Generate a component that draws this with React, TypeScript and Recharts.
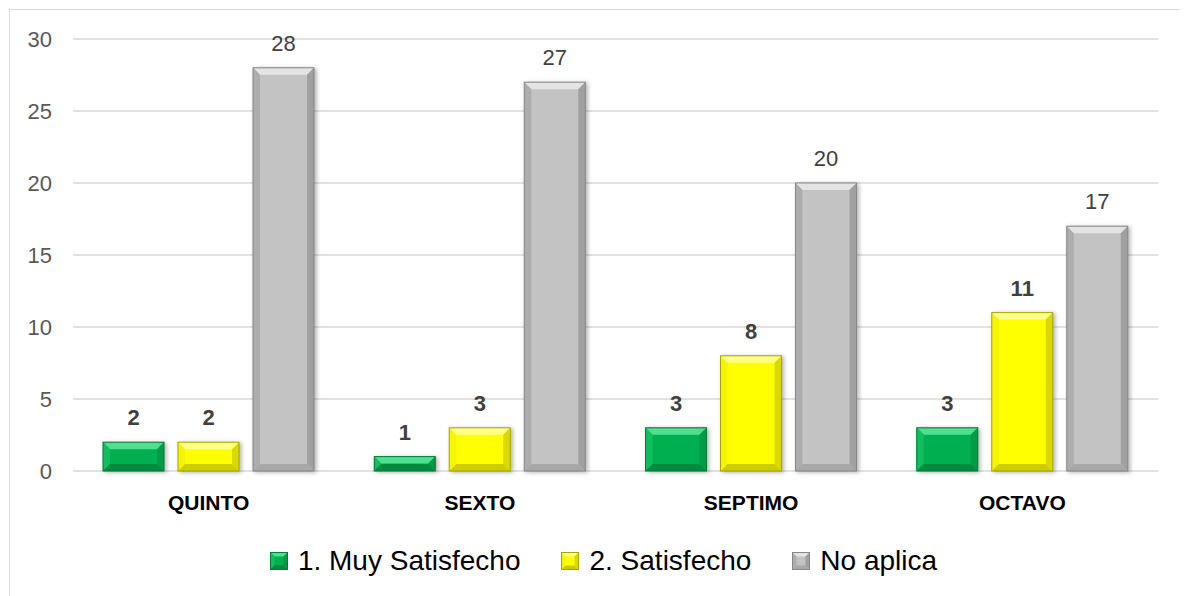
import React from "react";
import {
  BarChart,
  Bar,
  XAxis,
  YAxis,
  CartesianGrid,
  Legend,
  LabelList
} from "recharts";

const categories = ["QUINTO", "SEXTO", "SEPTIMO", "OCTAVO"];
const muySatisfecho = [2, 1, 3, 3];
const satisfecho = [2, 3, 8, 11];
const noAplica = [28, 27, 20, 17];
const yTicks = [0, 5, 10, 15, 20, 25, 30];
const seriesNames = ["1. Muy Satisfecho", "2. Satisfecho", "No aplica"];

const FONT = '"Liberation Sans", Arial, sans-serif';

interface Palette {
  main: string;
  top: string;
  left: string;
  right: string;
  bottom: string;
  stroke: string;
}

const GREEN: Palette = {
  main: "#00B050",
  top: "#4FE08F",
  left: "#10BE5E",
  right: "#009B45",
  bottom: "#008A3D",
  stroke: "#007A35"
};
const YELLOW: Palette = {
  main: "#FFFF00",
  top: "#FFFF8C",
  left: "#F5F500",
  right: "#D9D900",
  bottom: "#CCCC00",
  stroke: "#A6A600"
};
const GRAY: Palette = {
  main: "#C3C3C3",
  top: "#E4E4E4",
  left: "#ADADAD",
  right: "#A0A0A0",
  bottom: "#A8A8A8",
  stroke: "#878787"
};
const palettes = [GREEN, YELLOW, GRAY];

const data = categories.map((c, i) => ({
  name: c,
  muy: muySatisfecho[i],
  sat: satisfecho[i],
  na: noAplica[i]
}));

// bar with a simple bevel look, drawn from the box recharts hands us
const bevel = (pal: Palette, x: number, y: number, w: number, h: number, size: number) => {
  const b = Math.max(0, Math.min(size, w / 2, h / 2));
  const pts = (a: number[][]) => a.map((p) => p.join(",")).join(" ");
  return (
    <g>
      <rect x={x} y={y} width={w} height={h} fill={pal.main} />
      <polygon points={pts([[x, y], [x + w, y], [x + w - b, y + b], [x + b, y + b]])} fill={pal.top} />
      <polygon points={pts([[x, y], [x + b, y + b], [x + b, y + h - b], [x, y + h]])} fill={pal.left} />
      <polygon points={pts([[x + w, y], [x + w - b, y + b], [x + w - b, y + h - b], [x + w, y + h]])} fill={pal.right} />
      <polygon points={pts([[x, y + h], [x + w, y + h], [x + w - b, y + h - b], [x + b, y + h - b]])} fill={pal.bottom} />
      <rect x={x} y={y} width={w} height={h} fill="none" stroke={pal.stroke} strokeWidth={1} />
    </g>
  );
};

const makeShape = (pal: Palette) => (props: any) => {
  const { x, y, width, height } = props;
  if (!height || height <= 0) return <g />;
  return (
    <g style={{ filter: "drop-shadow(2px 1px 2px rgba(0,0,0,0.3))" }}>
      {bevel(pal, x, y, width, height, 7)}
    </g>
  );
};

const YTick = (props: any) => {
  const { x, y, payload } = props;
  return (
    <text
      x={x - 13}
      y={y}
      dy={8}
      textAnchor="end"
      fontFamily={FONT}
      fontSize={22}
      fill="#595959"
    >
      {payload.value}
    </text>
  );
};

const renderLegend = () => (
  <div
    style={{
      display: "flex",
      justifyContent: "center",
      alignItems: "center",
      height: 44,
      gap: 41,
      paddingLeft: 12,
      fontFamily: FONT,
      fontSize: 28,
      color: "#000"
    }}
  >
    {seriesNames.map((n, i) => (
      <div key={n} style={{ display: "flex", alignItems: "center" }}>
        <svg width={18} height={18}>
          {bevel(palettes[i], 0.5, 0.5, 17, 17, 4)}
        </svg>
        <span style={{ marginLeft: 10 }}>{n}</span>
      </div>
    ))}
  </div>
);

export default function App() {
  return (
    <div
      style={{
        width: 1175,
        height: 594,
        border: "1px solid #d9d9d9",
        margin: "1px 0 0 1px",
        background: "#fff"
      }}
    >
      <BarChart
        width={1175}
        height={586}
        data={data}
        margin={{ top: 29, right: 27, left: 13, bottom: 13 }}
        barSize={61}
        barGap={14}
      >
        <CartesianGrid vertical={false} stroke="#d9d9d9" strokeWidth={1.5} />
        <XAxis
          dataKey="name"
          axisLine={false}
          tickLine={false}
          height={68}
          tickMargin={18}
          tick={{ fontFamily: FONT, fontSize: 21, fontWeight: 700, fill: "#000" }}
        />
        <YAxis
          width={50}
          domain={[0, 30]}
          ticks={yTicks}
          axisLine={false}
          tickLine={false}
          tick={<YTick />}
        />
        <Legend
          verticalAlign="bottom"
          height={44}
          content={renderLegend}
          wrapperStyle={{ left: 0, width: 1175 }}
        />
        <Bar dataKey="muy" name={seriesNames[0]} fill={GREEN.main} shape={makeShape(GREEN)} isAnimationActive={false}>
          <LabelList dataKey="muy" position="top" offset={17} fill="#404040" fontFamily={FONT} fontSize={22} fontWeight={700} />
        </Bar>
        <Bar dataKey="sat" name={seriesNames[1]} fill={YELLOW.main} shape={makeShape(YELLOW)} isAnimationActive={false}>
          <LabelList dataKey="sat" position="top" offset={17} fill="#404040" fontFamily={FONT} fontSize={22} fontWeight={700} />
        </Bar>
        <Bar dataKey="na" name={seriesNames[2]} fill={GRAY.main} shape={makeShape(GRAY)} isAnimationActive={false}>
          <LabelList dataKey="na" position="top" offset={17} fill="#404040" fontFamily={FONT} fontSize={22} />
        </Bar>
      </BarChart>
    </div>
  );
}
